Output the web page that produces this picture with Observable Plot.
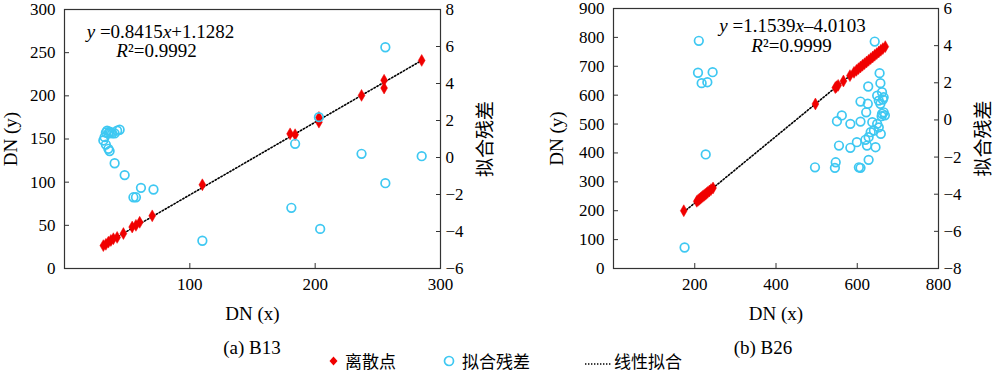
<!DOCTYPE html>
<html><head><meta charset="utf-8">
<script src="https://cdn.jsdelivr.net/npm/d3@7"></script>
<script src="https://cdn.jsdelivr.net/npm/@observablehq/plot@0.6"></script>
<style>
body{margin:0;background:#fff;}
#wrap{position:relative;width:1000px;height:374px;overflow:hidden;background:#fff;font-family:"Liberation Serif",serif;color:#000;}
.panel{position:absolute;top:0;width:500px;height:325px;}
.panel svg{position:absolute;left:0;top:0;}
.cap{position:absolute;top:337px;font-size:19px;line-height:22px;transform:translateX(-50%);white-space:nowrap;}
.leg{position:absolute;top:349px;height:24px;display:flex;align-items:center;font-family:"Noto Sans CJK SC",sans-serif;font-size:17px;line-height:24px;white-space:nowrap;}
.leg svg{margin-right:6px;}
</style></head>
<body><div id="wrap"></div>
<script>
// ---- data ----
const b13RedX = [31, 33, 35, 37, 39, 42, 47, 54, 57, 60, 70, 110, 180, 184, 203, 203, 237, 255, 255, 285];
const b13RedY = [26.5, 28, 30.5, 32.5, 34.5, 36, 40.5, 48, 50, 53.5, 61, 97, 156, 155, 175, 169.5, 200.5, 218, 209, 241];
const b13ResX = [32, 33, 34, 35, 36, 37, 38, 40, 42, 44, 31, 33, 35, 36, 40, 48, 55, 57, 61, 71, 110, 181, 184, 203, 204, 237, 256, 256, 285];
const b13ResR = [1.1, 1.35, 1.45, 1.3, 1.4, 1.35, 1.3, 1.3, 1.45, 1.5, 0.92, 0.7, 0.47, 0.35, -0.31, -0.95, -2.15, -2.15, -1.64, -1.73, -4.5, -2.72, 0.74, 2.18, -3.86, 0.2, 5.96, -1.39, 0.07];

const b26RedX = [173, 205, 208, 211, 214, 217, 220, 223, 226, 229, 232, 236, 240, 245, 497, 546, 549, 553, 566, 582, 592, 598, 603, 608, 613, 618, 623, 628, 633, 638, 643, 648, 653, 658, 663, 669];
const b26RedY = [200, 232.5, 236, 239.5, 243, 246.4, 250, 253.3, 256.8, 260, 263.7, 268.3, 273, 278.7, 569.5, 626, 629.5, 634, 649, 667.6, 679, 686, 691.8, 697.6, 703.4, 709, 715, 720.6, 726.4, 732, 738, 743.8, 749.5, 755.3, 761, 768];
const b26ResX = [175, 210, 208, 217, 231, 244, 227, 496, 547, 545, 550, 555, 562, 583, 583, 599, 604, 608, 608, 608, 620, 622, 624, 626, 627, 628, 628, 633, 637, 641, 643, 645, 649, 649, 653, 653, 655, 657, 657, 661, 661, 665, 665, 658, 663, 660, 668];
const b26ResR = [-6.87, 4.26, 2.54, 1.98, 2.03, 2.57, -1.86, -2.55, -2.28, -2.58, -0.07, -1.38, 0.24, -0.21, -1.5, -1.2, -2.55, -2.58, 0.99, -0.09, -1.07, 0.41, -1.38, 0.87, 1.8, -0.93, -2.15, -0.66, -0.12, -0.57, 4.22, -1.47, 1.31, -0.21, 1.04, -0.4, 2.52, 1.98, 0.87, 1.49, 0.33, 1.22, 0.41, -0.75, 1.1, 0.2, 0.25];

const b13XTicks = [100, 200, 300];
const b13YTicks = [0, 50, 100, 150, 200, 250, 300];
const b13RTicks = [-6, -4, -2, 0, 2, 4, 6, 8];
const b26XTicks = [200, 400, 600, 800];
const b26YTicks = [0, 100, 200, 300, 400, 500, 600, 700, 800, 900];
const b26RTicks = [-8, -6, -4, -2, 0, 2, 4, 6];

const fitSlope = [0.8415, 1.1539];
const fitIntercept = [1.1282, -4.0103];
const eqText = ["y =0.8415x+1.1282", "y =1.1539x–4.0103"];
const r2Text = ["R²=0.9992", "R²=0.9999"];
const captions = ["(a) B13", "(b) B26"];
const xLabel = "DN (x)";
const yLabel = "DN (y)";
const rLabel = "拟合残差";
const legendLabels = ["离散点", "拟合残差", "线性拟合"];

// ---- styles ----
const RED = "#f00000";
const CYAN = "#3ec8f2";
const SERIF = "Liberation Serif";
const CJK = "Noto Sans CJK SC";
const W = 500, H = 325;
const TICK_FS = 17, LAB_FS = 19;

const wrap = document.getElementById("wrap");

function richify(svg, str) {
  d3.select(svg).selectAll("text").each(function () {
    if (this.textContent !== str) return;
    const el = d3.select(this);
    el.text(null);
    const parts = [];
    for (const ch of str) {
      const it = /[xyR]/.test(ch);
      if (parts.length && parts[parts.length - 1].it === it) parts[parts.length - 1].s += ch;
      else parts.push({s: ch, it});
    }
    for (const p of parts) el.append("tspan").attr("font-style", p.it ? "italic" : "normal").text(p.s);
  });
}

function panel(i, cfg) {
  const div = document.createElement("div");
  div.className = "panel";
  div.style.left = cfg.left + "px";
  const red = cfg.redX.map((x, k) => ({x, y: cfg.redY[k]}));
  const res = cfg.resX.map((x, k) => ({x, r: cfg.resR[k]}));
  const xmin = d3.min(cfg.redX), xmax = d3.max(cfg.redX);
  const fit = [xmin, xmax].map(x => ({x, y: fitSlope[i] * x + fitIntercept[i]}));
  const common = {
    width: W, height: H,
    marginLeft: cfg.ml, marginRight: cfg.mr, marginTop: cfg.mt, marginBottom: H - 268,
    style: {fontFamily: SERIF, fontSize: TICK_FS + "px", background: "transparent", color: "#000", overflow: "visible"}
  };
  const main = Plot.plot({
    ...common,
    x: {domain: cfg.xDomain},
    y: {domain: cfg.yDomain},
    marks: [
      Plot.frame({stroke: "#333", strokeWidth: 1.2}),
      Plot.axisX({ticks: cfg.xTicks, tickSize: -5, tickPadding: 14, label: null, stroke: "#333", fontSize: TICK_FS}),
      Plot.axisY({ticks: cfg.yTicks, tickSize: -5, tickPadding: 14, label: null, stroke: "#333", fontSize: TICK_FS}),
      Plot.text([xLabel], {text: d => d, frameAnchor: "bottom", dy: 45, lineAnchor: "middle", textAnchor: "middle", fontSize: LAB_FS}),
      Plot.text([yLabel], {text: d => d, frameAnchor: "left", dx: cfg.yLabDx, rotate: -90, lineAnchor: "middle", textAnchor: "middle", fontSize: LAB_FS}),
      Plot.line(fit, {x: "x", y: "y", stroke: "#000", strokeWidth: 1.6, strokeDasharray: "1.4,2"}),
      Plot.dot(red, {x: "x", y: "y", symbol: "diamond", r: 3.6, fill: RED, stroke: RED, strokeWidth: 0.5}),
      Plot.text([eqText[i]], {text: d => d, frameAnchor: "top-left", dx: cfg.eqDx, dy: cfg.eqDy, textAnchor: "middle", lineAnchor: "middle", fontSize: LAB_FS}),
      Plot.text([r2Text[i]], {text: d => d, frameAnchor: "top-left", dx: cfg.r2Dx, dy: cfg.r2Dy, textAnchor: "middle", lineAnchor: "middle", fontSize: LAB_FS})
    ]
  });
  richify(main, eqText[i]);
  richify(main, r2Text[i]);
  const over = Plot.plot({
    ...common,
    x: {domain: cfg.xDomain, axis: null},
    y: {domain: cfg.rDomain},
    marks: [
      Plot.axisY({anchor: "right", ticks: cfg.rTicks, tickSize: -5, tickPadding: 10, label: null, stroke: "#333", fontSize: TICK_FS}),
      Plot.text([rLabel], {text: d => d, frameAnchor: "right", dx: 45, rotate: -90, lineAnchor: "middle", textAnchor: "middle", fontSize: 19, fontFamily: CJK}),
      Plot.dot(res, {x: "x", y: "r", r: 4.3, stroke: CYAN, strokeWidth: 1.7, fill: "none"})
    ]
  });
  div.appendChild(main);
  div.appendChild(over);
  wrap.appendChild(div);
}

panel(0, {left: 0, ml: 64, mr: 60, mt: 9, xDomain: [0, 300], yDomain: [0, 300], rDomain: [-6, 8],
  xTicks: b13XTicks, yTicks: b13YTicks, rTicks: b13RTicks,
  redX: b13RedX, redY: b13RedY, resX: b13ResX, resR: b13ResR,
  yLabDx: -54, eqDx: 96, eqDy: 22, r2Dx: 92, r2Dy: 41});
panel(1, {left: 500, ml: 113, mr: 62, mt: 8, xDomain: [0, 800], yDomain: [0, 900], rDomain: [-8, 6],
  xTicks: b26XTicks, yTicks: b26YTicks, rTicks: b26RTicks,
  redX: b26RedX, redY: b26RedY, resX: b26ResX, resR: b26ResR,
  yLabDx: -57, eqDx: 179, eqDy: 17, r2Dx: 178, r2Dy: 37});

// captions
[252, 763].forEach((cx, i) => {
  const c = document.createElement("div");
  c.className = "cap"; c.style.left = cx + "px"; c.textContent = captions[i];
  wrap.appendChild(c);
});

// legend
function legItem(x, svgStr, label) {
  const d = document.createElement("div");
  d.className = "leg"; d.style.left = x + "px";
  d.innerHTML = svgStr + "<span></span>";
  d.querySelector("span").textContent = label;
  wrap.appendChild(d);
}
legItem(328, `<svg width="11" height="12"><path d="M5.5,1.5L9.5,6L5.5,10.5L1.5,6Z" fill="${RED}"/></svg>`, legendLabels[0]);
legItem(442, `<svg width="14" height="14"><circle cx="7" cy="7" r="4.5" fill="none" stroke="${CYAN}" stroke-width="1.7"/></svg>`, legendLabels[1]);
legItem(584, `<svg width="28" height="14" style="margin-right:2px"><line x1="1" x2="28" y1="10" y2="10" stroke="#000" stroke-width="1.5" stroke-dasharray="1.4,1.6"/></svg>`, legendLabels[2]);
</script></body></html>
